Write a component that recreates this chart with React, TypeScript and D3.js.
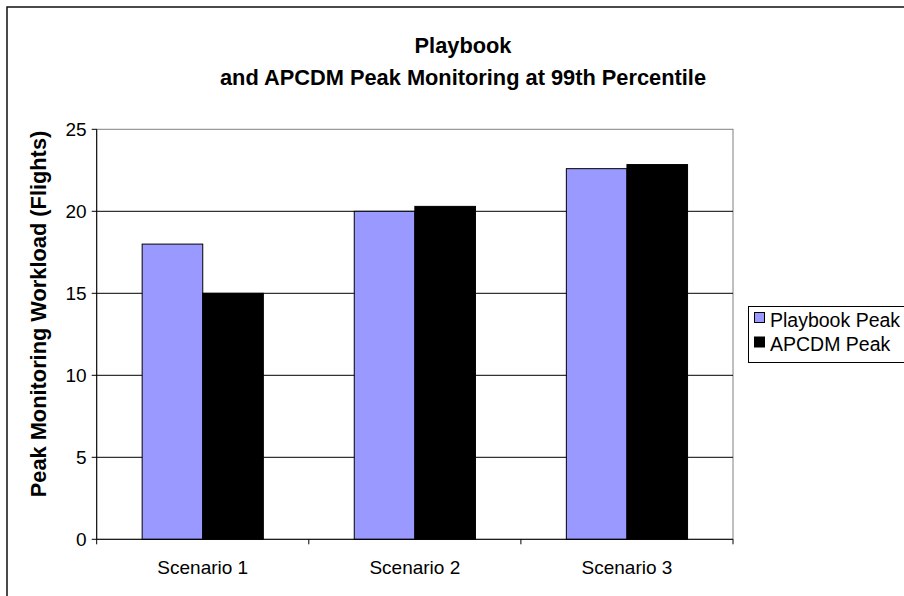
import React from "react";
import * as d3 from "d3";

const categories = ["Scenario 1", "Scenario 2", "Scenario 3"];
const seriesNames = ["Playbook Peak", "APCDM Peak"];
const playbookPeak = [18, 20, 22.6];
const apcdmPeak = [15, 20.3, 22.85];
const yTicks = [0, 5, 10, 15, 20, 25];
const titleLines = ["Playbook", "and APCDM Peak Monitoring at 99th Percentile"];
const yAxisTitle = "Peak Monitoring Workload (Flights)";
const seriesColors = ["#9999FF", "#000000"];

const W = 904;
const H = 596;
const plot = { left: 96.7, right: 733, top: 129.3, bottom: 539.3 };
const FONT = "Arial, 'Liberation Sans', sans-serif";

export default function App() {
  const x0 = d3.scaleBand<string>().domain(categories).range([plot.left, plot.right]).padding(0);
  const x1 = d3
    .scaleBand<string>()
    .domain(seriesNames)
    .range([0, x0.bandwidth()])
    .paddingInner(0)
    .paddingOuter(0.75);
  const y = d3.scaleLinear().domain([0, 25]).range([plot.bottom, plot.top]);

  const values = [playbookPeak, apcdmPeak];
  const catTicks = [...categories.map((c) => x0(c) as number), plot.right];

  return (
    <svg
      width={W}
      height={H}
      style={{ position: "absolute", left: 0, top: 0, background: "#fff" }}
      fontFamily={FONT}
    >
      {/* chart frame */}
      <rect x={7} y={7} width={W + 20} height={H + 20} fill="#fff" stroke="#111" strokeWidth={1.5} />

      {/* title */}
      {titleLines.map((t, i) => (
        <text
          key={t}
          x={463}
          y={53 + i * 32}
          textAnchor="middle"
          fontSize={21.8}
          fontWeight="bold"
          fill="#000"
        >
          {t}
        </text>
      ))}

      {/* plot area */}
      <rect
        x={plot.left}
        y={plot.top}
        width={plot.right - plot.left}
        height={plot.bottom - plot.top}
        fill="#fff"
        stroke="#808080"
        strokeWidth={1}
      />

      {/* gridlines */}
      {yTicks.slice(1, -1).map((t) => (
        <line key={t} x1={plot.left} x2={plot.right} y1={y(t)} y2={y(t)} stroke="#000" strokeWidth={1} />
      ))}

      {/* bars */}
      {categories.map((c, ci) =>
        seriesNames.map((s, si) => {
          const bx = (x0(c) as number) + (x1(s) as number);
          const v = values[si][ci];
          return (
            <rect
              key={c + s}
              x={bx}
              y={y(v)}
              width={x1.bandwidth()}
              height={y(0) - y(v)}
              fill={seriesColors[si]}
              stroke="#000"
              strokeWidth={1}
            />
          );
        })
      )}

      {/* y axis */}
      <line x1={plot.left} x2={plot.left} y1={plot.top} y2={plot.bottom} stroke="#000" strokeWidth={1} />
      {yTicks.map((t) => (
        <g key={t}>
          <line x1={plot.left - 5} x2={plot.left} y1={y(t)} y2={y(t)} stroke="#000" strokeWidth={1} />
          <text x={plot.left - 10} y={y(t) + 7} textAnchor="end" fontSize={19} fill="#000">
            {t}
          </text>
        </g>
      ))}

      {/* x axis */}
      <line x1={plot.left} x2={plot.right} y1={plot.bottom} y2={plot.bottom} stroke="#000" strokeWidth={1} />
      {catTicks.map((tx, i) => (
        <line key={i} x1={tx} x2={tx} y1={plot.bottom} y2={plot.bottom + 5} stroke="#000" strokeWidth={1} />
      ))}
      {categories.map((c) => (
        <text
          key={c}
          x={(x0(c) as number) + x0.bandwidth() / 2}
          y={574}
          textAnchor="middle"
          fontSize={19}
          fill="#000"
        >
          {c}
        </text>
      ))}

      {/* y axis title */}
      <text
        transform={`translate(46, 314) rotate(-90)`}
        textAnchor="middle"
        fontSize={21.8}
        fontWeight="bold"
        fill="#000"
      >
        {yAxisTitle}
      </text>

      {/* legend */}
      <rect x={748.5} y={306.5} width={200} height={56} fill="#fff" stroke="#000" strokeWidth={1} />
      {seriesNames.map((s, i) => (
        <g key={s}>
          <rect
            x={754.5}
            y={312.5 + i * 24.5}
            width={10}
            height={10}
            fill={seriesColors[i]}
            stroke="#000"
            strokeWidth={1}
          />
          <text x={770} y={326.5 + i * 24.5} fontSize={19.5} fill="#000">
            {s}
          </text>
        </g>
      ))}
    </svg>
  );
}
